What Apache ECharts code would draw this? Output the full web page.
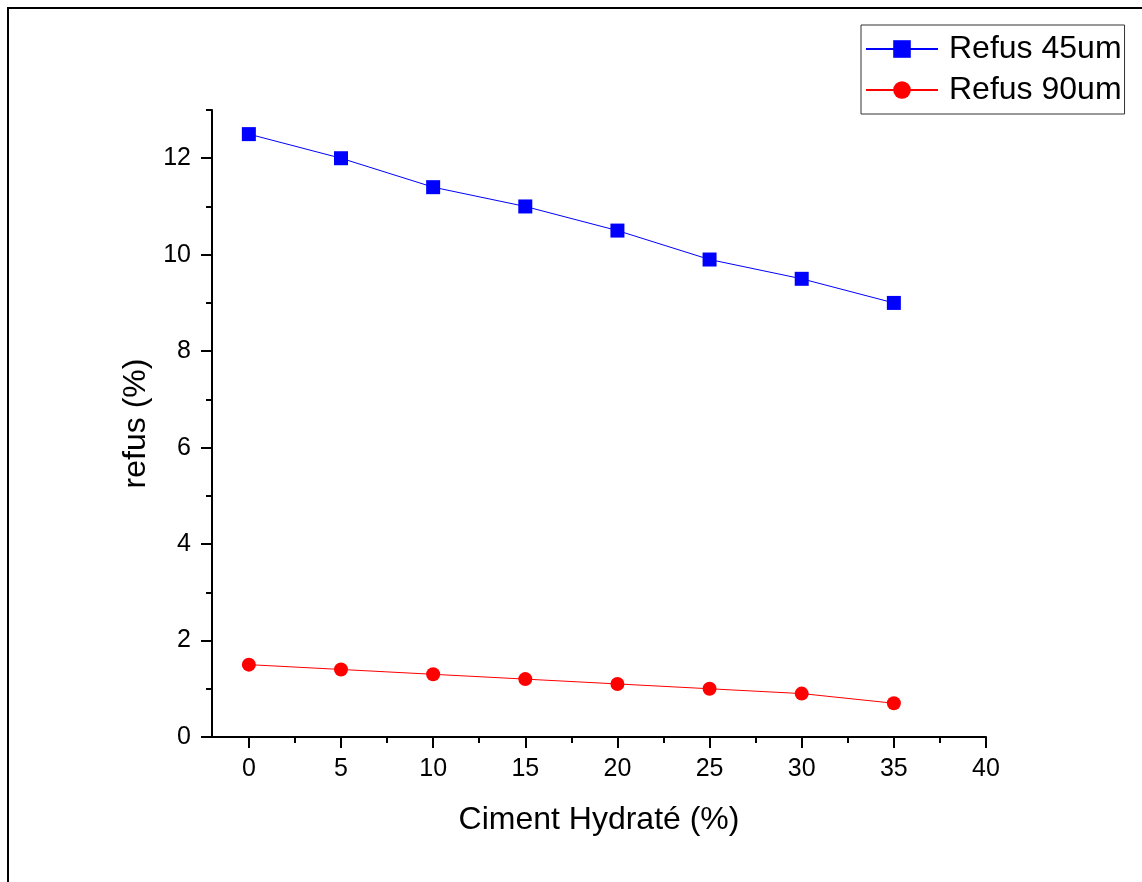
<!DOCTYPE html>
<html>
<head>
<meta charset="utf-8">
<script src="https://cdn.jsdelivr.net/npm/echarts@6/dist/echarts.min.js"></script>
<style>
html,body{margin:0;padding:0;background:#fff;}
#chart{width:1142px;height:882px;}
</style>
</head>
<body>
<div id="chart"></div>
<script>
const cimentHydrate = [0, 5, 10, 15, 20, 25, 30, 35];
const refus45 = [12.5, 12.0, 11.4, 11.0, 10.5, 9.9, 9.5, 9.0];
const refus90 = [1.5, 1.4, 1.3, 1.2, 1.1, 1.0, 0.9, 0.7];
const xMajorTicks = [0, 5, 10, 15, 20, 25, 30, 35, 40];
const xMinorTicks = [2.5, 7.5, 12.5, 17.5, 22.5, 27.5, 32.5, 37.5];
const yMajorTicks = [0, 2, 4, 6, 8, 10, 12];
const yMinorTicks = [1, 3, 5, 7, 9, 11, 13];
const seriesNames = ['Refus 45um', 'Refus 90um'];
const xTitle = 'Ciment Hydraté (%)';
const yTitle = 'refus (%)';

const FONT = '"Liberation Sans", Arial, sans-serif';
const chart = echarts.init(document.getElementById('chart'), null, {renderer: 'canvas'});

const axisLine = {show: true, onZero: false, lineStyle: {color: '#000', width: 2}};

chart.setOption({
  animation: false,
  backgroundColor: '#fff',
  grid: {left: 212, right: 156, top: 110, bottom: 145, containLabel: false},
  graphic: [{
    type: 'polyline',
    shape: {points: [[8, 882], [8, 8], [1142, 8]]},
    style: {stroke: '#000', lineWidth: 2, fill: null},
    silent: true
  }],
  legend: {
    left: 861, top: 25,
    orient: 'vertical',
    backgroundColor: '#fff',
    borderColor: '#333',
    borderWidth: 1,
    padding: [8, 3, 8, 4],
    itemGap: 9,
    itemWidth: 72,
    itemHeight: 22,
    textStyle: {fontFamily: FONT, fontSize: 32, color: '#000', padding: [0, 0, 0, 6]},
    data: seriesNames
  },
  xAxis: [{
    type: 'value', min: -2, max: 40,
    name: xTitle, nameLocation: 'middle', nameGap: 67,
    nameTextStyle: {fontFamily: FONT, fontSize: 32, color: '#000'},
    axisLine: axisLine,
    axisTick: {show: true, inside: false, length: 11, customValues: xMajorTicks, lineStyle: {color: '#000', width: 2}},
    axisLabel: {show: true, customValues: xMajorTicks, margin: 20, fontFamily: FONT, fontSize: 25, color: '#000'},
    splitLine: {show: false}
  }, {
    type: 'value', min: -2, max: 40, position: 'bottom',
    axisLine: {show: false, onZero: false},
    axisTick: {show: true, inside: false, length: 6, customValues: xMinorTicks, lineStyle: {color: '#000', width: 2}},
    axisLabel: {show: false},
    splitLine: {show: false}
  }],
  yAxis: [{
    type: 'value', min: 0, max: 13,
    name: yTitle, nameLocation: 'middle', nameGap: 50, nameRotate: 90,
    nameTextStyle: {fontFamily: FONT, fontSize: 32, color: '#000'},
    axisLine: axisLine,
    axisTick: {show: true, inside: false, length: 11, customValues: yMajorTicks, lineStyle: {color: '#000', width: 2}},
    axisLabel: {show: true, customValues: yMajorTicks, margin: 21, fontFamily: FONT, fontSize: 25, color: '#000'},
    splitLine: {show: false}
  }, {
    type: 'value', min: 0, max: 13, position: 'left',
    axisLine: {show: false, onZero: false},
    axisTick: {show: true, inside: false, length: 6, customValues: yMinorTicks, lineStyle: {color: '#000', width: 2}},
    axisLabel: {show: false},
    splitLine: {show: false}
  }],
  series: [{
    name: seriesNames[0], type: 'line',
    xAxisIndex: 0, yAxisIndex: 0,
    data: cimentHydrate.map((x, i) => [x, refus45[i]]),
    symbol: 'rect', symbolSize: 14,
    lineStyle: {color: '#0000ff', width: 1},
    itemStyle: {color: '#0000ff'}
  }, {
    name: seriesNames[1], type: 'line',
    xAxisIndex: 0, yAxisIndex: 0,
    data: cimentHydrate.map((x, i) => [x, refus90[i]]),
    symbol: 'circle', symbolSize: 14,
    lineStyle: {color: '#ff0000', width: 1},
    itemStyle: {color: '#ff0000'}
  }]
});
</script>
</body>
</html>
